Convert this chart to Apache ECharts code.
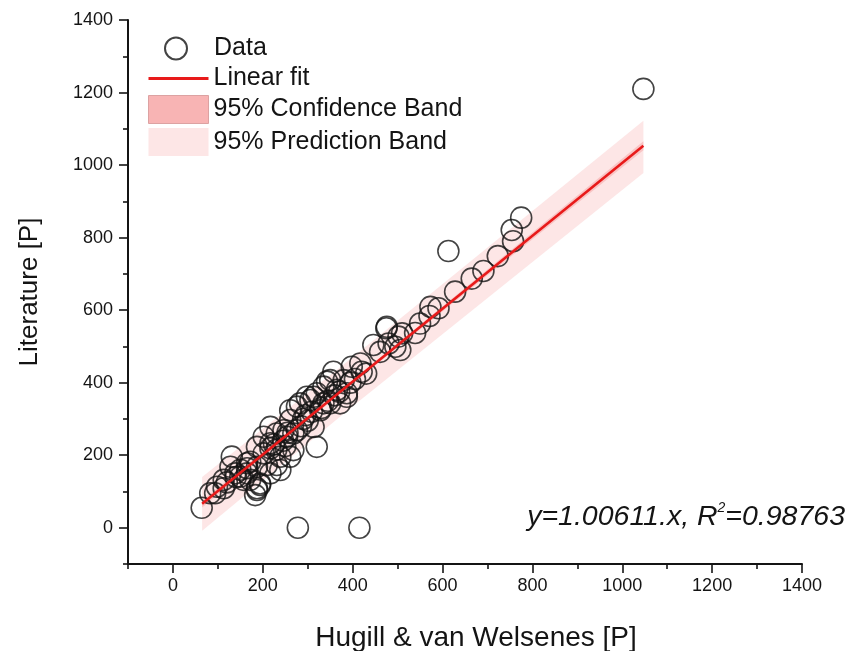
<!DOCTYPE html>
<html>
<head>
<meta charset="utf-8">
<script src="https://cdn.jsdelivr.net/npm/echarts@6/dist/echarts.min.js"></script>
<style>
  html, body { margin: 0; padding: 0; background: #fff; }
  #chart { width: 848px; height: 651px; }
</style>
</head>
<body>
<div id="chart"></div>
<script>
// measured points (Hugill & van Welsenes vs literature)
const dataX = [64, 83, 94, 98, 113, 113, 128, 131, 139, 150, 157, 165, 165, 165, 172, 172, 183, 187, 187, 187, 187,
  194, 194, 202, 202, 209, 217, 217, 217, 217, 231, 231, 239, 239, 246, 254, 261, 261, 261, 268, 268, 276, 276,
  283, 298, 306, 309, 313, 313, 320, 320, 328, 335, 335, 343, 350, 350, 357, 365, 372, 380, 387, 387, 398, 417,
  446, 461, 475, 476, 480, 495, 502, 506, 510, 539, 550, 571, 573, 591, 613, 628, 665, 691, 723, 754, 757, 775,
  1047, 278, 415,
  225, 245, 255, 290, 300, 330, 345, 360, 370, 395, 420, 430, 405, 285, 295, 250, 230, 150, 120, 140];
const dataY = [55, 95, 95, 113, 109, 132, 168, 196, 150, 141, 132, 150, 164, 178, 132, 182, 90, 104, 109, 168, 223,
  118, 122, 205, 251, 173, 150, 219, 233, 278, 173, 260, 159, 196, 269, 251, 196, 297, 324, 214, 260, 269, 334,
  343, 361, 352, 320, 278, 361, 223, 371, 324, 343, 389, 403, 343, 407, 430, 380, 343, 407, 361, 371, 444, 453,
  504, 485, 550, 554, 508, 499, 527, 490, 536, 537, 563, 584, 609, 605, 763, 651, 687, 708, 749, 821, 790, 855,
  1210, 0, 0,
  230, 240, 262, 300, 295, 330, 350, 365, 375, 400, 430, 425, 410, 280, 310, 225, 215, 160, 125, 140];

// linear fit and bands
const fitX = [65, 1047];
const fitY = [66, 1053];
const bandX = [65, 400, 1047];
const predLower = [-8, 335, 978];
const predUpper = [140, 470, 1122];
const confLower = [56, 398, 1041];
const confUpper = [76, 407, 1066];

// tick values
const majorTicks = [0, 200, 400, 600, 800, 1000, 1200, 1400];
const minorTicks = [-100, 100, 300, 500, 700, 900, 1100, 1300];

const font = 'Liberation Sans, Arial, sans-serif';
const ink = '#141414';
const red = '#e81a1a';

const points = dataX.map((x, i) => [x, dataY[i]]);
const fitLine = fitX.map((x, i) => [x, fitY[i]]);

function band(lo, hi, fill) {
    return function (params, api) {
        const pts = [];
        for (let i = 0; i < bandX.length; i++) pts.push(api.coord([bandX[i], hi[i]]));
        for (let i = bandX.length - 1; i >= 0; i--) pts.push(api.coord([bandX[i], lo[i]]));
        return { type: 'polygon', shape: { points: pts }, style: { fill: fill } };
    };
}

function mainAxis(name, isY) {
    return {
        type: 'value',
        min: -100,
        max: 1400,
        interval: 100,
        name: name,
        nameLocation: 'middle',
        nameGap: isY ? 85 : 60,
        nameTextStyle: {
            fontSize: isY ? 26 : 28, color: ink, fontFamily: font,
            padding: isY ? 0 : [0, 0, 0, 22]
        },
        axisLine: { show: true, onZero: false, lineStyle: { color: ink, width: 2 } },
        axisTick: { show: true, inside: false, length: 9, customValues: majorTicks, lineStyle: { color: ink, width: 1.6 } },
        axisLabel: {
            customValues: majorTicks,
            fontSize: 18, color: ink, fontFamily: font,
            margin: isY ? 15 : 13,
            formatter: v => (v % 200 === 0 ? String(v) : '')
        },
        splitLine: { show: false }
    };
}

function minorAxis() {
    return {
        type: 'value',
        min: -100,
        max: 1400,
        interval: 100,
        axisLine: { show: false, onZero: false },
        axisTick: { show: true, inside: false, length: 5, customValues: minorTicks, lineStyle: { color: ink, width: 1.6 } },
        axisLabel: { show: false },
        splitLine: { show: false }
    };
}

const myChart = echarts.init(document.getElementById('chart'));
const xMinor = minorAxis(); xMinor.position = 'bottom';
const yMinor = minorAxis(); yMinor.position = 'left';
const legendText = { fontSize: 25, color: ink, fontFamily: font };
const option = {
    backgroundColor: '#fff',
    animation: false,
    grid: { left: 128, right: 46, top: 20, bottom: 87, containLabel: false, outerBoundsMode: 'none' },
    xAxis: [mainAxis('Hugill & van Welsenes [P]', false), xMinor],
    yAxis: [mainAxis('Literature [P]', true), yMinor],
    legend: [
        {
            data: ['Data'],
            orient: 'vertical',
            left: 164, top: 36,
            padding: 0,
            itemWidth: 22, itemHeight: 22,
            selectedMode: false,
            textStyle: Object.assign({ padding: [0, 0, 0, 22] }, legendText)
        },
        {
            data: [
                { name: 'Linear fit', icon: 'path://M0,0L60,0L60,3L0,3Z', itemStyle: { color: red, borderWidth: 0 } },
                { name: '95% Confidence Band', icon: 'rect', itemStyle: { color: '#f8b4b4', borderColor: '#dca2a2', borderWidth: 1 } },
                { name: '95% Prediction Band', icon: 'rect', itemStyle: { color: '#fde6e6', borderWidth: 0 } }
            ],
            orient: 'vertical',
            left: 148, top: 66,
            padding: 0,
            itemWidth: 60, itemHeight: 28, itemGap: 4,
            selectedMode: false,
            textStyle: legendText
        }
    ],
    graphic: [{
        type: 'text',
        right: 3,
        top: 501,
        style: {
            text: '{i|y=1.00611.x, R}{s|2}{i|=0.98763}',
            rich: {
                i: { fontSize: 28.5, fontStyle: 'italic', fontFamily: font, fill: ink, lineHeight: 32 },
                s: { fontSize: 14, fontStyle: 'italic', fontFamily: font, fill: ink, verticalAlign: 'top', lineHeight: 32 }
            }
        }
    }],
    series: [
        {
            name: '95% Prediction Band',
            type: 'custom',
            renderItem: band(predLower, predUpper, '#fde6e6'),
            data: [[bandX[0], predLower[0]]],
            itemStyle: { color: '#fde6e6' },
            silent: true,
            z: 1
        },
        {
            name: '95% Confidence Band',
            type: 'custom',
            renderItem: band(confLower, confUpper, '#f9c4c4'),
            data: [[bandX[0], confLower[0]]],
            itemStyle: { color: '#f8b4b4' },
            silent: true,
            z: 1
        },
        {
            name: 'Data',
            type: 'scatter',
            data: points,
            symbol: 'circle',
            symbolSize: 21,
            itemStyle: { color: 'rgba(255,255,255,0)', borderColor: ink, borderWidth: 1.6 },
            z: 2
        },
        {
            name: 'Linear fit',
            type: 'line',
            data: fitLine,
            symbol: 'none',
            lineStyle: { color: red, width: 2.6 },
            itemStyle: { color: red },
            z: 3
        }
    ]
};
myChart.setOption(option);
</script>
</body>
</html>
